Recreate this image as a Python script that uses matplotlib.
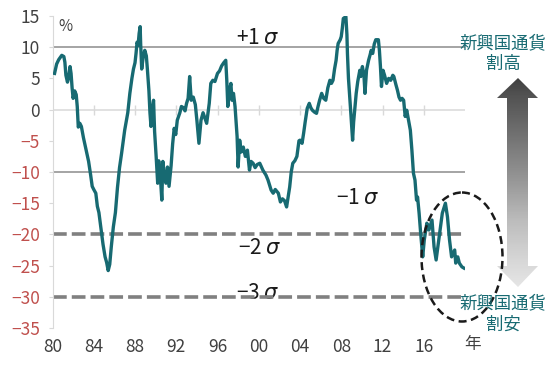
import matplotlib
matplotlib.use('Agg')
import matplotlib.pyplot as plt
from matplotlib.patches import Polygon, Ellipse
import numpy as np

plt.rcParams['font.family'] = ['Noto Sans CJK JP', 'DejaVu Sans']
plt.rcParams['mathtext.fontset'] = 'dejavusans'

# series (year, %)
years = [1980.2, 1980.4, 1980.6, 1980.9, 1981.1, 1981.2, 1981.3, 1981.45, 1981.55, 1981.7,
         1981.8, 1981.9, 1982.0, 1982.15, 1982.3, 1982.4, 1982.5, 1982.65, 1982.8, 1983.0,
         1983.2, 1983.5, 1983.7, 1983.85, 1984.0, 1984.2, 1984.35, 1984.5, 1984.7, 1984.9,
         1985.1, 1985.25, 1985.4, 1985.55, 1985.7, 1985.9, 1986.1, 1986.3, 1986.5, 1986.7,
         1987.0, 1987.3, 1987.5, 1987.7, 1987.85, 1988.0, 1988.1, 1988.2, 1988.3, 1988.4,
         1988.5, 1988.55, 1988.65, 1988.8, 1988.95, 1989.1, 1989.2, 1989.35, 1989.45, 1989.55,
         1989.7, 1989.8, 1989.9, 1990.05, 1990.2, 1990.3, 1990.45, 1990.6, 1990.7, 1990.85,
         1991.0, 1991.15, 1991.3, 1991.5, 1991.65, 1991.8, 1991.95, 1992.1, 1992.35, 1992.5,
         1992.7, 1992.85, 1993.0, 1993.15, 1993.3, 1993.45, 1993.65, 1993.85, 1994.0, 1994.2,
         1994.4, 1994.6, 1994.8, 1994.95, 1995.1, 1995.2, 1995.35, 1995.55, 1995.75, 1996.0,
         1996.2, 1996.4, 1996.6, 1996.8, 1996.9, 1997.0, 1997.15, 1997.3, 1997.4, 1997.55,
         1997.7, 1997.9, 1998.0, 1998.15, 1998.3, 1998.5, 1998.7, 1998.9, 1999.1, 1999.25,
         1999.45, 1999.65, 1999.85, 2000.1, 2000.4, 2000.7, 2000.9, 2001.2, 2001.4, 2001.6,
         2001.9, 2002.1, 2002.3, 2002.5, 2002.7, 2002.85, 2003.0, 2003.15, 2003.3, 2003.5,
         2003.7, 2003.9, 2004.0, 2004.2, 2004.35, 2004.5, 2004.7, 2004.9, 2005.05, 2005.2,
         2005.4, 2005.6, 2005.75, 2005.9, 2006.1, 2006.3, 2006.5, 2006.7, 2006.9, 2007.05,
         2007.2, 2007.35, 2007.5, 2007.6, 2007.7, 2007.9, 2008.0, 2008.1, 2008.2, 2008.45,
         2008.55, 2008.6, 2008.7, 2008.8, 2008.95, 2009.1, 2009.2, 2009.3, 2009.45, 2009.6,
         2009.8, 2009.9, 2010.05, 2010.2, 2010.3, 2010.45, 2010.65, 2010.8, 2010.9, 2011.05,
         2011.2, 2011.35, 2011.6, 2011.7, 2011.8, 2011.9, 2012.05, 2012.2, 2012.4, 2012.6,
         2012.8, 2013.0, 2013.1, 2013.3, 2013.45, 2013.6, 2013.75, 2013.9, 2014.05, 2014.2,
         2014.35, 2014.5, 2014.7, 2014.85, 2015.0, 2015.15, 2015.3, 2015.4, 2015.55, 2015.7,
         2015.9, 2016.05, 2016.3, 2016.5, 2016.8, 2017.0, 2017.2, 2017.5, 2017.8, 2018.1,
         2018.3, 2018.5, 2018.7, 2019.0, 2019.1, 2019.3, 2019.45, 2019.7, 2019.9]
values = [5.8, 7.3, 8.0, 8.7, 8.5, 7.6, 5.5, 4.4, 5.0, 6.9,
          5.8, 3.5, 1.8, 3.0, 2.4, 0.5, -2.8, -2.2, -2.7, -4.5,
          -6.0, -8.3, -10.5, -12.3, -12.8, -13.4, -15.5, -16.5, -19.0, -21.6,
          -23.6, -24.5, -25.8, -24.8, -22.0, -18.8, -16.5, -12.5, -9.3, -7.0,
          -3.3, -0.5, 2.6, 5.0, 6.5, 7.5, 9.0, 10.8, 10.3, 12.2,
          13.3, 10.5, 6.5, 8.5, 9.5, 8.6, 6.5, 3.0, -0.5, -2.7,
          0.5, 1.5, -3.5, -7.5, -11.8, -8.2, -10.5, -14.5, -8.3, -10.5,
          -11.8, -9.2, -12.3, -9.0, -5.5, -3.0, -4.0, -1.7, -0.5, 0.5,
          0.3, -0.2, 1.0, 1.8, 5.3, 1.5, 2.0, 0.8, -1.7, -5.4,
          -1.7, -0.5, -1.5, -2.2, -0.3, 1.0, 4.2, 4.7, 4.5, 5.8,
          6.2, 7.0, 7.5, 7.9, 4.7, 0.5, 3.0, 4.2, 1.5, 2.6,
          0.5, -4.3, -9.2, -4.9, -6.8, -6.0, -7.5, -6.5, -9.7, -8.3,
          -8.6, -9.3, -8.8, -8.6, -9.7, -10.5, -11.3, -12.9, -13.4, -12.8,
          -13.4, -14.8, -14.3, -14.6, -15.6, -14.0, -12.4, -10.0, -8.6, -8.2,
          -7.5, -5.0, -4.9, -5.4, -3.8, -2.0, 0.2, 1.0, 0.3, -0.1,
          -0.4, -0.6, 0.5, 1.5, 2.6, 1.8, 1.5, 3.5, 4.7, 4.2,
          4.7, 6.5, 7.9, 9.5, 10.6, 11.2, 11.7, 13.0, 14.6, 14.9,
          12.0, 9.0, 5.0, 2.6, -1.1, -4.9, -2.0, -0.1, 2.6, 4.5,
          6.3, 5.3, 6.9, 5.5, 2.6, 6.3, 7.9, 8.8, 9.5, 9.0,
          10.5, 11.2, 11.2, 9.5, 6.9, 3.7, 6.3, 5.5, 4.2, 5.0,
          4.7, 5.5, 5.3, 4.0, 3.1, 2.0, 1.5, 1.8, 1.5, -1.1,
          -0.1, -1.5, -3.3, -6.5, -10.2, -11.3, -14.5, -14.0, -16.6, -19.8,
          -23.6, -20.9, -18.2, -19.3, -17.7, -22.0, -24.1, -20.4, -16.6, -15.0,
          -17.2, -20.9, -23.6, -22.5, -24.6, -23.6, -24.6, -25.2, -25.4]

yticks = [15, 10, 5, 0, -5, -10, -15, -20, -25, -30, -35]
xticks = [1980, 1984, 1988, 1992, 1996, 2000, 2004, 2008, 2012, 2016]
xlabels = ['80', '84', '88', '92', '96', '00', '04', '08', '12', '16']
sigma_solid = [10, -10]
sigma_dashed = [-20, -30]

teal = '#176a72'

fig = plt.figure(figsize=(5.5, 3.69), dpi=100)
ax = fig.add_axes([52.5 / 550, 1 - 328 / 369, (465 - 52.5) / 550, (328 - 16) / 369])

for lv in sigma_solid:
    ax.axhline(lv, color='#8c8c8c', lw=1.1, zorder=1)
ax.axhline(0, color='#d9d9d9', lw=1.1, zorder=1)
ax.vlines(xticks[1:], -0.8, 0.8, color='#d9d9d9', lw=1.0, zorder=1)
for lv in sigma_dashed:
    ax.axhline(lv, color='#808080', lw=2.6, dashes=(3.8, 1.4), zorder=1)

ax.plot(years, values, color=teal, lw=2.4, zorder=3, solid_joinstyle='round')

ax.set_xlim(1980, 2020)
ax.set_ylim(-35, 15)
ax.set_yticks(yticks)
ax.set_xticks(xticks)
ax.set_xticklabels(xlabels)
for s in ['top', 'right', 'bottom']:
    ax.spines[s].set_visible(False)
ax.spines['left'].set_color('#d9d9d9')
ax.tick_params(axis='y', length=3, color='#d9d9d9', labelsize=12.5, pad=6)
ax.tick_params(axis='x', length=0, labelsize=12.5, pad=7)
for lab, v in zip(ax.get_yticklabels(), yticks):
    lab.set_color('#c0504d' if v < 0 else '#404040')
for lab in ax.get_xticklabels():
    lab.set_color('#404040')

ax.text(1980.6, 13.3, '%', fontsize=11, color='#404040', va='center')
ax.text(2020.7, -37.6, '年', fontsize=12, color='#404040', ha='center', va='center', clip_on=False)

ax.text(1999.9, 11.5, '+1 $\\sigma$', fontsize=15, color='#1a1a1a', ha='center', va='center')
ax.text(2009.6, -14.2, '−1 $\\sigma$', fontsize=15, color='#1a1a1a', ha='center', va='center')
ax.text(2000.1, -22.2, '−2 $\\sigma$', fontsize=15, color='#1a1a1a', ha='center', va='center')
ax.text(1999.9, -29.4, '−3 $\\sigma$', fontsize=15, color='#1a1a1a', ha='center', va='center', zorder=0)

# overlay in pixel coordinates for the arrow, ellipse and side labels
ov = fig.add_axes([0, 0, 1, 1], facecolor='none')
ov.set_xlim(0, 550)
ov.set_ylim(369, 0)
ov.axis('off')

arrow = Polygon([(518, 78), (538, 98), (528, 98), (528, 266), (538, 266), (518, 287),
                 (497, 266), (507, 266), (507, 98), (497, 98)],
                closed=True, facecolor='none', edgecolor='none')
ov.add_patch(arrow)
grad = np.linspace(0, 1, 256).reshape(-1, 1)
im = ov.imshow(grad, cmap='Greys_r', vmin=-0.32, vmax=1.29, aspect='auto',
               extent=[496, 539, 288, 77], zorder=2)
im.set_clip_path(arrow)

ov.add_patch(Ellipse((462, 257), 81, 129, fill=False, edgecolor='#1a1a1a', lw=1.8,
                     linestyle=(0, (3.2, 1.8)), zorder=4))

ov.text(503, 43, '新興国通貨', fontsize=12.5, color=teal, ha='center', va='center')
ov.text(503, 64, '割高', fontsize=12.5, color=teal, ha='center', va='center')
ov.text(503, 303, '新興国通貨', fontsize=12.5, color=teal, ha='center', va='center', zorder=5)
ov.text(503, 325, '割安', fontsize=12.5, color=teal, ha='center', va='center', zorder=5)

fig.savefig('out.png', dpi=100)
